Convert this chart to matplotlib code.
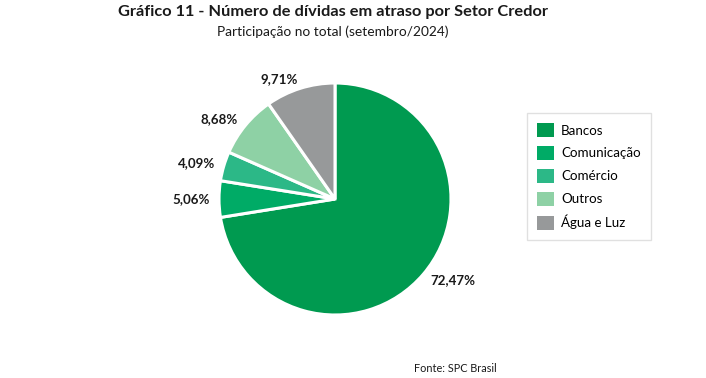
import matplotlib.pyplot as plt
from matplotlib.patches import Patch

plt.rcParams['font.family'] = ['Lato', 'DejaVu Sans']

setores = ['Bancos', 'Comunicação', 'Comércio', 'Outros', 'Água e Luz']
participacao = [72.47, 5.06, 4.09, 8.68, 9.71]
cores = ['#009a50', '#00ab66', '#2cb887', '#8ed1a5', '#97999a']

W, H = 706, 378
fig = plt.figure(figsize=(W / 100, H / 100), dpi=100)

cx, cy, r = 335, 199, 116
ax = fig.add_axes([(cx - r) / W, (H - cy - r) / H, 2 * r / W, 2 * r / H])

rotulos = [f"{v:.2f}%".replace('.', ',') for v in participacao]
wedges, texts = ax.pie(participacao, colors=cores, startangle=90, counterclock=False,
                       labels=rotulos, labeldistance=1.08,
                       wedgeprops=dict(edgecolor='white', linewidth=2.2),
                       textprops=dict(fontsize=9.6, fontweight='bold', color='#1a1a1a'))
ax.set_xlim(-1, 1)
ax.set_ylim(-1, 1)

fig.text(333 / W, 1 - 12 / H, 'Gráfico 11 - Número de dívidas em atraso por Setor Credor',
         ha='center', va='center', fontsize=11.8, fontweight='bold', color='#1a1a1a')
fig.text(333 / W, 1 - 32 / H, 'Participação no total (setembro/2024)',
         ha='center', va='center', fontsize=9.9, color='#1a1a1a')
fig.text(455 / W, 1 - 368 / H, 'Fonte: SPC Brasil', ha='center', va='center',
         fontsize=7.8, color='#1a1a1a')

handles = [Patch(facecolor=c, edgecolor='none') for c in cores]
leg = fig.legend(handles, setores, loc='upper left', bbox_to_anchor=(527 / W, 1 - 113 / H),
                 frameon=True, fancybox=False, fontsize=9.6, handlelength=1.25, handleheight=1.25,
                 handletextpad=0.55, labelspacing=0.66, borderpad=0.75, borderaxespad=0)
leg.get_frame().set_edgecolor('#d9d9d9')
leg.get_frame().set_linewidth(1.0)

fig.savefig('out.png', dpi=100)
